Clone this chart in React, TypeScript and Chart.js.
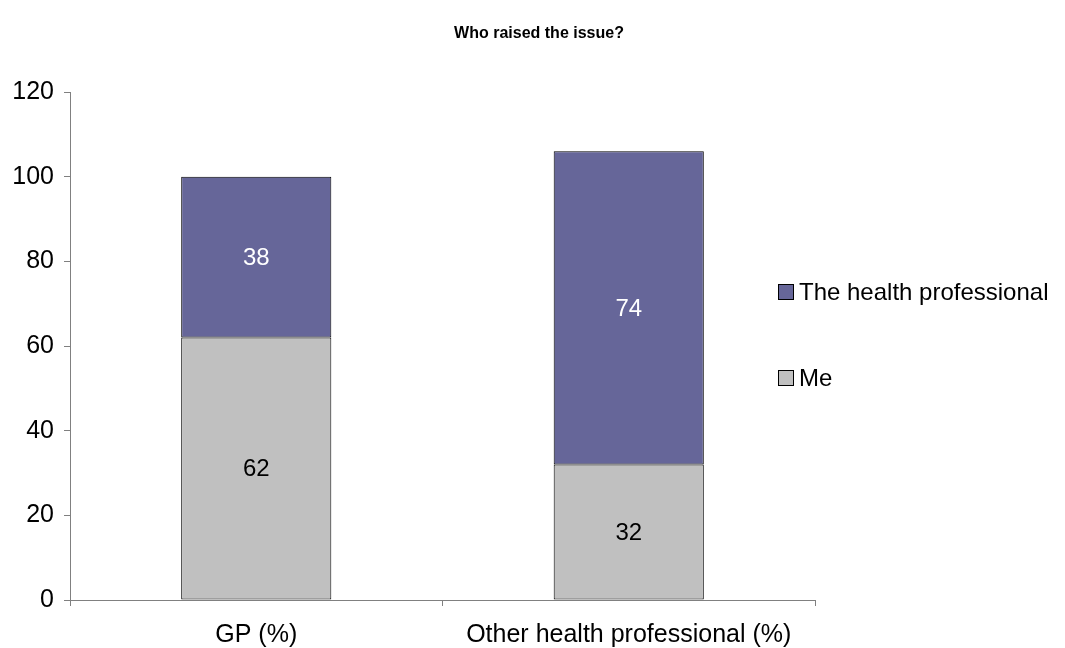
import React, { useEffect, useRef } from "react";
import { Chart, registerables } from "chart.js";

Chart.register(...registerables);

const categories = ["GP (%)", "Other health professional (%)"];
const meValues = [62, 32];
const healthProfValues = [38, 74];
const seriesNames = ["Me", "The health professional"];
const yTicks = [0, 20, 40, 60, 80, 100, 120];
const titleText = "Who raised the issue?";

const FONT = "Arial, 'Liberation Sans', sans-serif";
const PURPLE = "#666699";
const GREY = "#C0C0C0";

const labelsPlugin = {
  id: "barLabels",
  afterDatasetsDraw(chart: any) {
    const ctx = chart.ctx;
    ctx.save();
    ctx.font = `24px ${FONT}`;
    ctx.textAlign = "center";
    ctx.textBaseline = "middle";
    chart.data.datasets.forEach((ds: any, di: number) => {
      const meta = chart.getDatasetMeta(di);
      meta.data.forEach((bar: any, i: number) => {
        const top = Math.min(bar.y, bar.base);
        const bottom = Math.max(bar.y, bar.base);
        ctx.fillStyle = di === 0 ? "#000000" : "#FFFFFF";
        ctx.fillText(String(ds.data[i]), bar.x, (top + bottom) / 2 + 1);
      });
    });
    ctx.restore();
  },
};

const decorPlugin = {
  id: "decor",
  afterDraw(chart: any) {
    const ctx = chart.ctx;
    ctx.save();
    ctx.fillStyle = "#000";
    ctx.font = `bold 16px ${FONT}`;
    ctx.textAlign = "center";
    ctx.textBaseline = "middle";
    ctx.fillText(titleText, 539, 34);
    const items = [
      { name: seriesNames[1], color: PURPLE, y: 292 },
      { name: seriesNames[0], color: GREY, y: 378 },
    ];
    ctx.font = `24px ${FONT}`;
    ctx.textAlign = "left";
    items.forEach((it) => {
      ctx.fillStyle = it.color;
      ctx.fillRect(778.5, it.y - 7.5, 15, 15);
      ctx.strokeStyle = "#000";
      ctx.lineWidth = 1;
      ctx.strokeRect(778.5, it.y - 7.5, 15, 15);
      ctx.fillStyle = "#000";
      ctx.fillText(it.name, 799, it.y + 1);
    });
    ctx.restore();
  },
};

export default function App() {
  const ref = useRef<HTMLCanvasElement>(null);
  useEffect(() => {
    if (!ref.current) return;
    const chart = new Chart(ref.current, {
      type: "bar",
      data: {
        labels: categories,
        datasets: [
          {
            label: seriesNames[0],
            data: meValues,
            backgroundColor: GREY,
            borderColor: "#000",
            borderWidth: 1,
            borderSkipped: false,
          },
          {
            label: seriesNames[1],
            data: healthProfValues,
            backgroundColor: PURPLE,
            borderColor: "#000",
            borderWidth: 1,
            borderSkipped: false,
          },
        ],
      },
      options: {
        responsive: false,
        animation: false,
        layout: { padding: { top: 92, right: 250, left: 0, bottom: 0 } },
        datasets: { bar: { barPercentage: 0.403, categoryPercentage: 1 } },
        plugins: {
          legend: { display: false },
          title: { display: false },
          tooltip: { enabled: false },
        },
        scales: {
          x: {
            stacked: true,
            offset: true,
            afterFit: (s: any) => {
              s.height = 48;
            },
            grid: {
              offset: true,
              drawOnChartArea: false,
              drawTicks: true,
              tickLength: 6,
              color: "#808080",
            },
            border: { color: "#808080", width: 1 },
            ticks: {
              color: "#000",
              font: { family: FONT, size: 25 },
              padding: 14,
              maxRotation: 0,
            },
          },
          y: {
            stacked: true,
            min: 0,
            max: 120,
            afterFit: (s: any) => {
              s.width = 70;
            },
            afterBuildTicks: (s: any) => {
              s.ticks = yTicks.map((v) => ({ value: v }));
            },
            grid: {
              drawOnChartArea: false,
              drawTicks: true,
              tickLength: 6,
              color: "#808080",
            },
            border: { color: "#808080", width: 1 },
            ticks: {
              color: "#000",
              font: { family: FONT, size: 25 },
              padding: 10,
            },
          },
        },
      },
      plugins: [labelsPlugin, decorPlugin],
    });
    return () => chart.destroy();
  }, []);
  return (
    <div style={{ position: "absolute", left: 0, top: 0, width: 1065, height: 648, background: "#fff" }}>
      <canvas ref={ref} width={1065} height={648} style={{ display: "block" }} />
    </div>
  );
}
